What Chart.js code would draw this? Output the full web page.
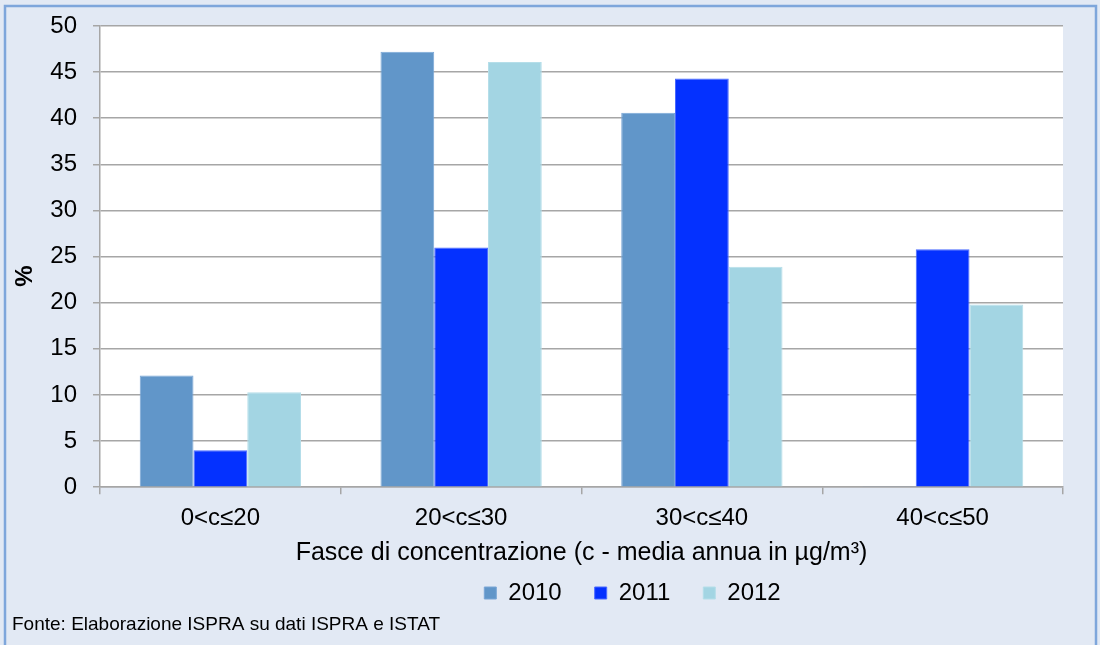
<!DOCTYPE html>
<html>
<head>
<meta charset="utf-8">
<script src="https://cdn.jsdelivr.net/npm/chart.js@4"></script>
<style>
html,body{margin:0;padding:0;background:#e2e9f4;}
#wrap{position:absolute;left:0;top:0;width:1100px;height:645px;}
</style>
</head>
<body>
<div id="wrap"><canvas id="c" width="1100" height="645"></canvas></div>
<script>
const categories = ["0<c≤20", "20<c≤30", "30<c≤40", "40<c≤50"];
const seriesNames = ["2010", "2011", "2012"];
const values2010 = [12.1, 47.2, 40.6, 0.1];
const values2011 = [4.0, 26.0, 44.3, 25.8];
const values2012 = [10.3, 46.1, 23.9, 19.8];
const yTicks = [0, 5, 10, 15, 20, 25, 30, 35, 40, 45, 50];
const yTitle = "%";
const xTitle = "Fasce di concentrazione (c - media annua in µg/m³)";
const footerText = "Fonte: Elaborazione ISPRA su dati ISPRA e ISTAT";
const colors = ["#6196c9", "#0431ff", "#a3d5e3"];
const borderColors = ["#7aa6d6", "#4a6bff", "#b5dee9"];

const FONT = "'Liberation Sans', Arial, sans-serif";

const decoPlugin = {
  id: 'deco',
  beforeDraw(chart) {
    const {ctx, chartArea} = chart;
    ctx.save();
    ctx.fillStyle = '#e2e9f4';
    ctx.fillRect(0, 0, chart.width, chart.height);
    ctx.strokeStyle = '#7ea6db';
    ctx.lineWidth = 2.5;
    ctx.strokeRect(5, 6, 1091, 660);
    ctx.fillStyle = '#ffffff';
    ctx.fillRect(chartArea.left, chartArea.top, chartArea.right - chartArea.left, chartArea.bottom - chartArea.top);
    ctx.restore();
    if (chart.legend && !chart.legend._shifted) {
      chart.legend.left += 95;
      chart.legend.right += 95;
      chart.legend.top -= 18;
      chart.legend.bottom -= 18;
      chart.legend._shifted = true;
    }
  },
  afterDraw(chart) {
    const {ctx} = chart;
    ctx.save();
    ctx.fillStyle = '#000';
    ctx.font = "bold 24px " + FONT;
    ctx.translate(25, 276);
    ctx.rotate(-Math.PI / 2);
    ctx.textAlign = 'center';
    ctx.textBaseline = 'middle';
    ctx.fillText(yTitle, 0, 0);
    ctx.restore();
    ctx.save();
    ctx.fillStyle = '#000';
    ctx.font = "19px " + FONT;
    ctx.textAlign = 'left';
    ctx.textBaseline = 'middle';
    ctx.fillText(footerText, 12, 625);
    ctx.restore();
  }
};

new Chart(document.getElementById('c'), {
  type: 'bar',
  data: {
    labels: categories,
    datasets: [
      {label: seriesNames[0], data: values2010, backgroundColor: colors[0], borderColor: borderColors[0], borderWidth: 1},
      {label: seriesNames[1], data: values2011, backgroundColor: colors[1], borderColor: borderColors[1], borderWidth: 1},
      {label: seriesNames[2], data: values2012, backgroundColor: colors[2], borderColor: borderColors[2], borderWidth: 1}
    ]
  },
  options: {
    responsive: false,
    animation: false,
    devicePixelRatio: 1,
    layout: {padding: {left: 12, right: 37, top: 26, bottom: 12}},
    datasets: {bar: {categoryPercentage: 0.67, barPercentage: 1.0}},
    plugins: {
      tooltip: {enabled: false},
      legend: {
        position: 'bottom',
        labels: {
          font: {family: FONT, size: 24},
          color: '#000',
          boxWidth: 12,
          boxHeight: 12,
          padding: 33
        }
      }
    },
    scales: {
      x: {
        offset: true,
        grid: {display: true, drawOnChartArea: false, offset: true, color: '#a6a6a6', tickLength: 7, lineWidth: 1.5},
        border: {display: true, color: '#a6a6a6', width: 1.5},
        ticks: {font: {family: FONT, size: 24}, color: '#000', padding: 10},
        title: {display: true, text: xTitle, font: {family: FONT, size: 25, lineHeight: 1}, color: '#000', padding: {top: -2, bottom: 0}}
      },
      y: {
        min: 0,
        max: 50,
        afterBuildTicks(scale) { scale.ticks = yTicks.map(v => ({value: v})); },
        afterFit(scale) { scale.width = 88; scale.paddingTop = 0; },
        grid: {color: '#a6a6a6', tickLength: 7, lineWidth: 1.5},
        border: {display: true, color: '#a6a6a6', width: 1.5},
        ticks: {font: {family: FONT, size: 24}, color: '#000', padding: 16},
        title: {display: false}
      }
    }
  },
  plugins: [decoPlugin]
});
</script>
</body>
</html>
